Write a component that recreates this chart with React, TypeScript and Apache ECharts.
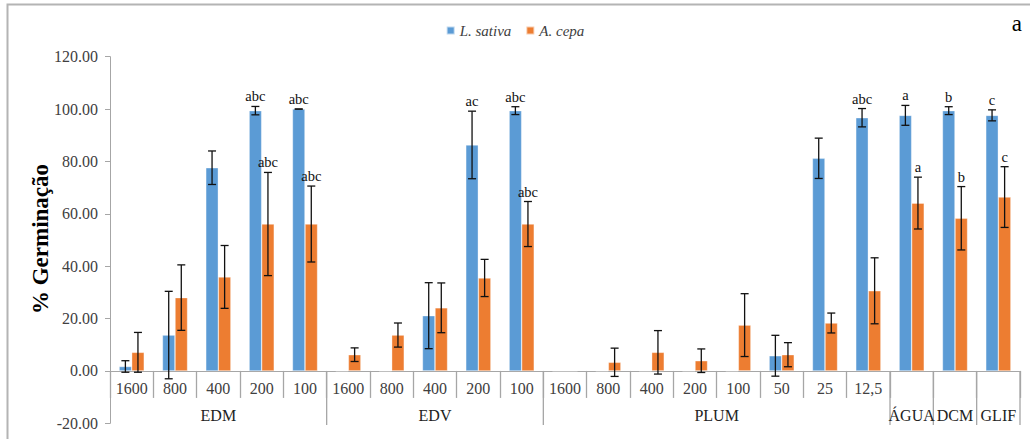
import React, { useEffect, useRef } from "react";
import * as echarts from "echarts";

const categories = ["1600", "800", "400", "200", "100", "1600", "800", "400", "200", "100", "1600", "800", "400", "200", "100", "50", "25", "12,5", "", "", ""];
const lSativa = [1.7, 13.7, 77.6, 99.4, 100, 0, 0, 21.1, 86.3, 99.4, 0, 0, 0, 0, 0, 5.8, 81.2, 96.7, 97.6, 99.4, 97.6];
const lSativaErr = [2.2, 16.7, 6.4, 1.6, 0, null, null, 12.6, 12.9, 1.5, null, null, null, null, null, 7.8, 7.7, 3.5, 3.8, 1.5, 2.1];
const aCepa = [7.1, 28.0, 35.9, 56.1, 56.1, 6.2, 13.7, 24.1, 35.5, 56.1, 0, 3.3, 7.1, 3.9, 17.5, 6.2, 18.3, 30.6, 64.1, 58.3, 66.4];
const aCepaErr = [7.6, 12.5, 12.0, 19.7, 14.5, 2.6, 4.6, 9.5, 7.1, 8.6, null, 5.4, 8.3, 4.5, 12.0, 4.6, 3.8, 12.6, 9.9, 12.1, 11.6];
const lSativaLetters = ["", "", "", "abc", "abc", "", "", "", "ac", "abc", "", "", "", "", "", "", "", "abc", "a", "b", "c"];
const aCepaLetters = ["", "", "", "abc", "abc", "", "", "", "", "abc", "", "", "", "", "", "", "", "", "a", "b", "c"];
const groupNames = ["EDM", "EDV", "PLUM", "ÁGUA", "DCM", "GLIF"];
const groupStart = [0, 5, 10, 18, 19, 20];
const groupEnd = [4, 9, 17, 18, 19, 20];
const yTicks = { min: -20, max: 120, interval: 20 };
const yTickValues: number[] = [];
for (let v = yTicks.min; v <= yTicks.max; v += yTicks.interval) yTickValues.push(v);
const yTitle = "% Germinação";

const SERIF = "Liberation Serif, Times New Roman, DejaVu Serif, serif";
const BLUE = "#5B9BD5";
const ORANGE = "#ED7D31";

function textEl(x: number, y: number, text: string, fill: string, size: number, align = "center", weight = "normal", rotation = 0) {
  return {
    type: "text",
    x,
    y,
    rotation,
    style: {
      text,
      fill,
      fontFamily: SERIF,
      fontSize: size,
      fontWeight: weight,
      align,
      verticalAlign: "middle",
      textAlign: align,
      textVerticalAlign: "middle",
    },
  };
}

function errorSeries(name: string, vals: number[], errs: (number | null)[], letters: string[], side: number) {
  return {
    type: "custom",
    name: name + "-err",
    silent: true,
    clip: false,
    z: 5,
    encode: { x: 0, y: 1 },
    data: categories.map((_, i) => [i, vals[i], errs[i] == null ? -1 : errs[i]]),
    renderItem: (params: any, api: any) => {
      const i = api.value(0);
      const v = api.value(1);
      const e = api.value(2);
      if (e < 0) return { type: "group", children: [] };
      const band = api.size([1, 0])[0];
      const off = side * band * 0.145;
      const top = api.coord([i, v + e]);
      const bot = api.coord([i, v - e]);
      const x = top[0] + off;
      const cap = 4;
      const st = { stroke: "#111", lineWidth: 1.3 };
      const children: any[] = [
        { type: "line", shape: { x1: x, y1: top[1], x2: x, y2: bot[1] }, style: st },
        { type: "line", shape: { x1: x - cap, y1: top[1], x2: x + cap, y2: top[1] }, style: st },
        { type: "line", shape: { x1: x - cap, y1: bot[1], x2: x + cap, y2: bot[1] }, style: st },
      ];
      const lab = letters[i];
      if (lab) children.push(textEl(x, top[1] - 10, lab, "#111", 14.5));
      return { type: "group", children };
    },
  };
}

export default function App() {
  const ref = useRef<HTMLDivElement>(null);
  useEffect(() => {
    if (!ref.current) return;
    const chart = echarts.init(ref.current, null, { renderer: "svg" });
    const option: any = {
      animation: false,
      backgroundColor: "#fff",
      textStyle: { fontFamily: SERIF },
      title: {
        text: "a",
        right: 3,
        top: 7,
        textStyle: { fontFamily: SERIF, fontSize: 23, fontWeight: "normal", color: "#000" },
      },
      legend: {
        top: 18,
        left: "center",
        icon: "rect",
        itemWidth: 8,
        itemHeight: 8,
        itemGap: 14,
        data: ["L. sativa", "A. cepa"],
        textStyle: { fontFamily: SERIF, fontStyle: "italic", fontSize: 15, color: "#404040" },
      },
      graphic: [
        {
          type: "rect",
          shape: { x: 7.5, y: 4.5, width: 1040, height: 450 },
          style: { fill: "none", stroke: "#B4B4B4", lineWidth: 2 },
          silent: true,
        },
      ],
      grid: { left: 110, right: 10, top: 56.7, bottom: 15.7, containLabel: false, outerBoundsMode: "none" },
      xAxis: {
        type: "category",
        data: categories,
        axisLine: { show: true, onZero: true, lineStyle: { color: "#A6A6A6", width: 1 } },
        axisTick: { show: true, interval: 0, length: 27, alignWithLabel: false, lineStyle: { color: "#A6A6A6", width: 1.3 } },
        axisLabel: { show: false },
        splitLine: { show: false },
      },
      yAxis: {
        type: "value",
        min: yTicks.min,
        max: yTicks.max,
        interval: yTicks.interval,
        axisLine: { show: true, lineStyle: { color: "#A6A6A6", width: 1 } },
        axisTick: { show: true, length: 5, lineStyle: { color: "#A6A6A6" } },
        axisLabel: { show: false },
        splitLine: { show: false },
      },
      series: [
        {
          type: "bar",
          name: "L. sativa",
          data: lSativa,
          barWidth: "29%",
          barGap: "0%",
          itemStyle: { color: BLUE, borderColor: "rgba(255,255,255,0.6)", borderWidth: 0.6 },
        },
        {
          type: "bar",
          name: "A. cepa",
          data: aCepa,
          barWidth: "29%",
          barGap: "0%",
          itemStyle: { color: ORANGE, borderColor: "rgba(255,255,255,0.6)", borderWidth: 0.6 },
        },
        errorSeries("L. sativa", lSativa, lSativaErr, lSativaLetters, -1),
        errorSeries("A. cepa", aCepa, aCepaErr, aCepaLetters, 1),
        {
          type: "custom",
          name: "catLabels",
          silent: true,
          clip: false,
          encode: { x: 0, y: 1 },
          data: categories.map((_, i) => [i, 0]),
          renderItem: (params: any, api: any) => {
            const p = api.coord([api.value(0), 0]);
            return textEl(p[0], p[1] + 18, categories[params.dataIndex], "#404040", 16);
          },
        },
        {
          type: "custom",
          name: "yLabels",
          silent: true,
          clip: false,
          encode: { x: 0, y: 1 },
          data: yTickValues.map((v) => [0, v]),
          renderItem: (params: any, api: any) => {
            const band = api.size([1, 0])[0];
            const p = api.coord([0, api.value(1)]);
            const axisX = p[0] - band / 2;
            const children: any[] = [
              textEl(axisX - 12, p[1], api.value(1).toFixed(2), "#404040", 16, "right"),
            ];
            if (params.dataIndex === 0) {
              const mid = api.coord([0, (yTicks.min + yTicks.max) / 2]);
              children.push(textEl(axisX - 70, mid[1] - 1, yTitle, "#000", 23, "center", "bold", Math.PI / 2));
            }
            return { type: "group", children };
          },
        },
        {
          type: "custom",
          name: "groups",
          silent: true,
          clip: false,
          encode: { x: 0, y: 1 },
          data: groupNames.map((_, g) => [groupStart[g], 0, groupEnd[g]]),
          renderItem: (params: any, api: any) => {
            const s = api.value(0);
            const e = api.value(2);
            const band = api.size([1, 0])[0];
            const p0 = api.coord([s, 0]);
            const p1 = api.coord([e, 0]);
            const left = p0[0] - band / 2;
            const right = p1[0] + band / 2;
            const y0 = p0[1];
            return {
              type: "group",
              children: [
                {
                  type: "line",
                  shape: { x1: right, y1: y0, x2: right, y2: y0 + 54 },
                  style: { stroke: "#A6A6A6", lineWidth: 1.3 },
                },
                textEl((left + right) / 2, y0 + 45, groupNames[params.dataIndex], "#222", 16),
              ],
            };
          },
        },
      ],
    };
    chart.setOption(option);
    return () => chart.dispose();
  }, []);
  return (
    <div
      ref={ref}
      style={{ position: "absolute", left: 0, top: 0, width: 1030, height: 439, background: "#fff" }}
    />
  );
}
